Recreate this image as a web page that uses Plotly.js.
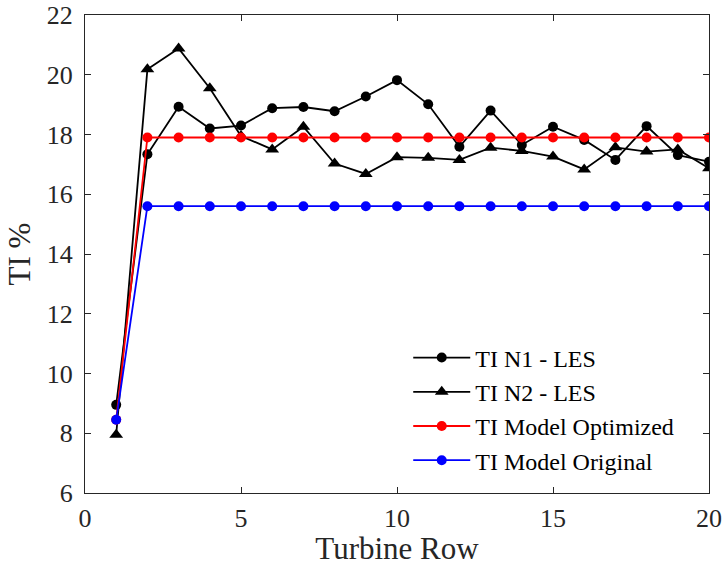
<!DOCTYPE html>
<html>
<head>
<meta charset="utf-8">
<script src="https://cdn.plot.ly/plotly-3.0.1.min.js"></script>
<style>html,body{margin:0;padding:0;background:#fff;}#chart{width:724px;height:566px;}</style>
</head>
<body>
<div id="chart"></div>
<script>
const turbineRow = [1,2,3,4,5,6,7,8,9,10,11,12,13,14,15,16,17,18,19,20];
const tiN1LES = [8.95,17.34,18.93,18.2,18.3,18.88,18.92,18.78,19.27,19.82,19.01,17.59,18.8,17.65,18.26,17.82,17.15,18.28,17.31,17.09];
const tiN2LES = [7.95,20.18,20.88,19.55,17.95,17.5,18.26,17.03,16.68,17.24,17.22,17.15,17.56,17.45,17.26,16.83,17.57,17.43,17.5,16.87];
const tiModelOptimized = [8.45,17.9,17.9,17.9,17.9,17.9,17.9,17.9,17.9,17.9,17.9,17.9,17.9,17.9,17.9,17.9,17.9,17.9,17.9,17.9];
const tiModelOriginal = [8.45,15.6,15.6,15.6,15.6,15.6,15.6,15.6,15.6,15.6,15.6,15.6,15.6,15.6,15.6,15.6,15.6,15.6,15.6,15.6];
const seriesNames = ["TI N1 - LES","TI N2 - LES","TI Model Optimized","TI Model Original"];
const xTicks = [0,5,10,15,20];
const yTicks = [6,8,10,12,14,16,18,20,22];

const font = "Liberation Serif, Times New Roman, serif";
function tr(y, name, color, symbol, size){
  return {x: turbineRow, y: y, name: name, type: 'scatter', mode: 'lines+markers',
    line: {color: color, width: 1.8}, marker: {color: color, symbol: symbol, size: size}};
}
const data = [
  tr(tiN1LES, seriesNames[0], '#000000', 'circle', 10),
  tr(tiN2LES, seriesNames[1], '#000000', 'triangle-up', 12),
  tr(tiModelOptimized, seriesNames[2], '#ff0000', 'circle', 10),
  tr(tiModelOriginal, seriesNames[3], '#0000ff', 'circle', 10)
];
const axisCommon = {showgrid:false, zeroline:false, showline:true, linecolor:'#262626', linewidth:1,
  mirror:'ticks', ticks:'inside', ticklen:6, tickcolor:'#262626',
  tickfont:{family:font, size:26, color:'#262626'}};
const layout = {
  width:724, height:566,
  margin:{l:85, r:15, t:15, b:73},
  paper_bgcolor:'#fff', plot_bgcolor:'#fff',
  showlegend:true,
  xaxis: Object.assign({}, axisCommon, {range:[0,20], tickvals:xTicks, ticktext:xTicks.map(String),
    ticklabelstandoff:2,
    title:{text:'Turbine Row', font:{family:font, size:31, color:'#262626'}, standoff:4}}),
  yaxis: Object.assign({}, axisCommon, {range:[6,22], tickvals:yTicks, ticktext:yTicks.map(String),
    ticklabelstandoff:6,
    title:{text:'TI %', font:{family:font, size:31, color:'#262626'}, standoff:6}}),
  legend:{x:0.518, y:0.022, xanchor:'left', yanchor:'bottom', bgcolor:'rgba(255,255,255,0)',
    borderwidth:0, font:{family:font, size:24, color:'#000'}, itemwidth:57, tracegroupgap:0}
};
Plotly.newPlot('chart', data, layout, {displayModeBar:false, staticPlot:true});
</script>
</body>
</html>
